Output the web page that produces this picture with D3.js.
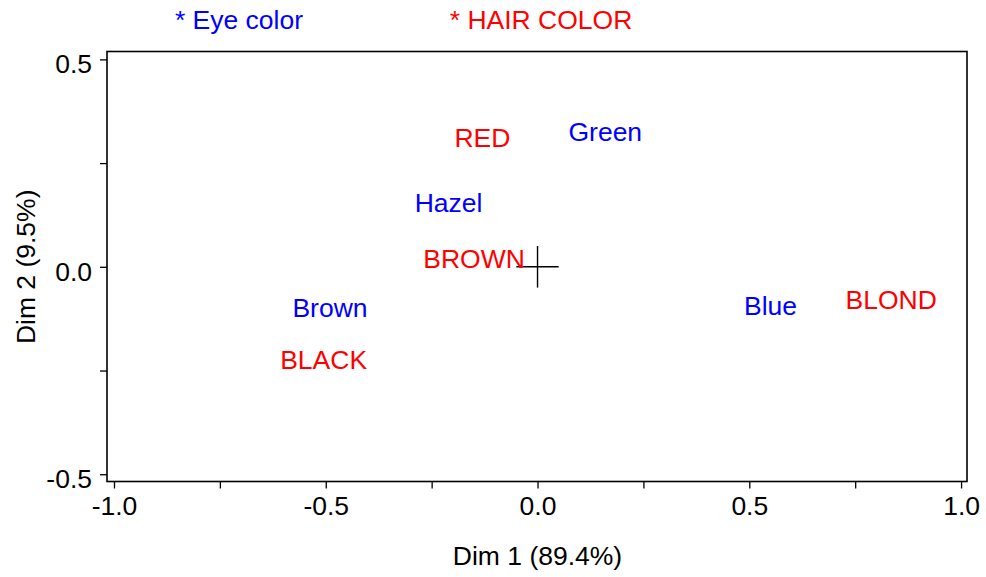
<!DOCTYPE html>
<html lang="en">
    <head>
        <meta charset="utf-8">
        <title>Correspondence analysis: hair and eye color</title>
        <script type="text/javascript" src="https://cdn.jsdelivr.net/npm/d3@7"></script>
        <style>
            body { margin: 0; background: #fff; }
            text { font-family: "Liberation Sans", Arial, Helvetica, sans-serif; }
        </style>
    </head>
    <body>
        <script type="text/javascript">
            var w = 986;
            var h = 577;
            var font_size = 26.5;

            // eye colour points (blue) and hair colour points (red)
            var eye_labels = ["Brown", "Blue", "Hazel", "Green"];
            var eye_dim1 = [-0.49, 0.55, -0.21, 0.16];
            var eye_dim2 = [-0.09, -0.085, 0.165, 0.335];

            var hair_labels = ["BLACK", "BROWN", "RED", "BLOND"];
            var hair_dim1 = [-0.505, -0.15, -0.13, 0.835];
            var hair_dim2 = [-0.215, 0.03, 0.32, -0.07];

            var x_ticks = [-1.0, -0.75, -0.5, -0.25, 0, 0.25, 0.5, 0.75, 1.0];
            var y_ticks = [-0.5, -0.25, 0, 0.25, 0.5];

            var box = {left: 107, right: 967, top: 51.5, bottom: 481.5};

            var svg = d3.select("body").append("svg").attr("width", w).attr("height", h);

            var xscale = d3.scaleLinear().domain([-1.0165, 1.014]).range([box.left, box.right]);
            var yscale = d3.scaleLinear().domain([-0.5175, 0.519]).range([box.bottom, box.top]);

            // frame
            svg.append("rect")
               .attr("x", box.left).attr("y", box.top)
               .attr("width", box.right - box.left).attr("height", box.bottom - box.top)
               .attr("fill", "none").attr("stroke", "black").attr("stroke-width", 1.6);

            // axes: labels only on the half units, plain hyphen for minus
            var fmt = function (d) {
                if (Math.abs(d * 2 - Math.round(d * 2)) > 1e-9) return "";
                return d.toFixed(1);
            };
            var xaxis = svg.append("g").attr("transform", "translate(0," + box.bottom + ")")
               .call(d3.axisBottom(xscale).tickValues(x_ticks).tickFormat(fmt).tickSize(7).tickPadding(8));
            var yaxis = svg.append("g").attr("transform", "translate(" + box.left + ",0)")
               .call(d3.axisLeft(yscale).tickValues(y_ticks).tickFormat(fmt).tickSize(7).tickPadding(8));
            [xaxis, yaxis].forEach(function (a) {
                a.select(".domain").remove();
                a.selectAll("line").attr("stroke", "black").attr("stroke-width", 1.3);
                a.selectAll("text").attr("font-size", font_size + "px").attr("fill", "black")
                 .attr("font-family", "Liberation Sans, Arial, sans-serif");
            });
            yaxis.selectAll("text").attr("dy", "0.5em");

            // crosshair at the origin
            var cross = svg.append("g").attr("stroke", "black").attr("stroke-width", 1.4);
            cross.append("line").attr("x1", xscale(-0.05)).attr("x2", xscale(0.05))
                 .attr("y1", yscale(0)).attr("y2", yscale(0));
            cross.append("line").attr("x1", xscale(0)).attr("x2", xscale(0))
                 .attr("y1", yscale(0.05)).attr("y2", yscale(-0.05));

            function draw_labels(labels, d1, d2, colour) {
                svg.append("g").selectAll("text").data(labels).enter().append("text")
                   .text(function (d) { return d; })
                   .attr("x", function (d, i) { return xscale(d1[i]); })
                   .attr("y", function (d, i) { return yscale(d2[i]); })
                   .attr("dy", "0.5em")
                   .attr("text-anchor", "middle")
                   .attr("font-size", font_size + "px")
                   .attr("fill", colour);
            }
            draw_labels(eye_labels, eye_dim1, eye_dim2, "#0000ff");
            draw_labels(hair_labels, hair_dim1, hair_dim2, "#ff0000");

            // legend along the top
            svg.append("text").text("* Eye color").attr("x", 239).attr("y", 29)
               .attr("text-anchor", "middle").attr("font-size", font_size + "px").attr("fill", "#0000ff");
            svg.append("text").text("* HAIR COLOR").attr("x", 541).attr("y", 29)
               .attr("text-anchor", "middle").attr("font-size", font_size + "px").attr("fill", "#ff0000");

            // axis titles
            svg.append("text").text("Dim 1 (89.4%)").attr("x", xscale(0)).attr("y", 565)
               .attr("text-anchor", "middle").attr("font-size", font_size + "px");
            svg.append("text").text("Dim 2 (9.5%)")
               .attr("transform", "translate(35," + yscale(0) + ") rotate(-90)")
               .attr("text-anchor", "middle").attr("font-size", font_size + "px");
        </script>
    </body>
</html>
